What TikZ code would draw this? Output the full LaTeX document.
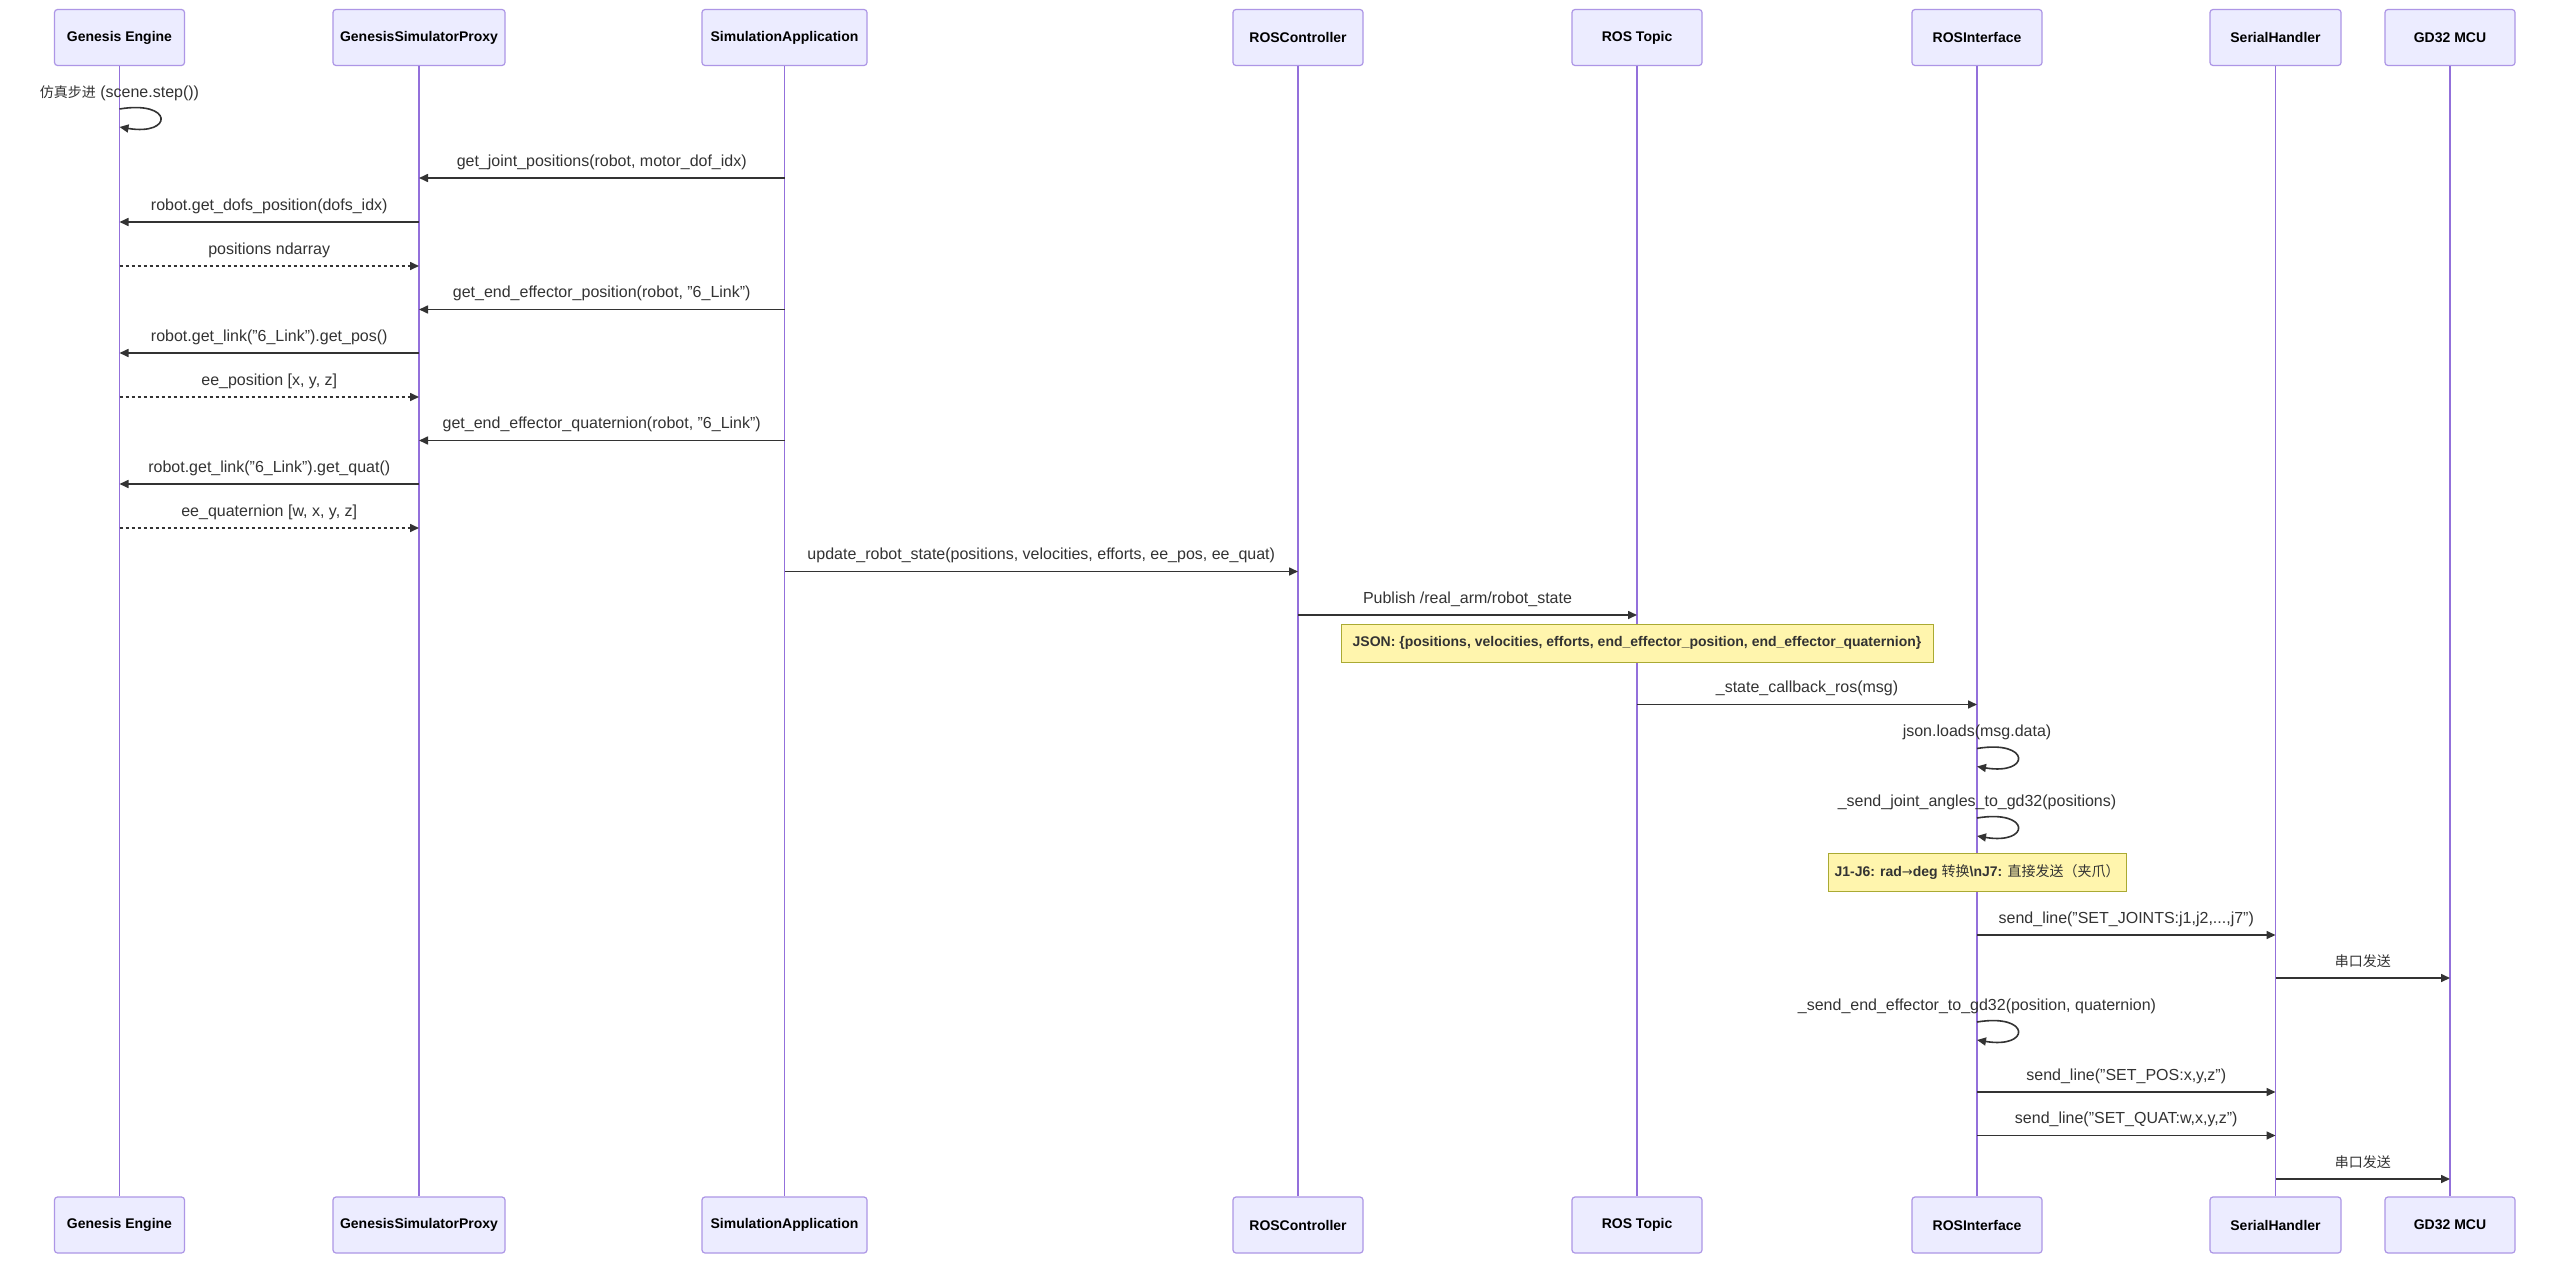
\documentclass[tikz,border=0pt]{standalone}
\usepackage{fontspec}
\setmainfont{Liberation Sans}
\newfontfamily\cjkfont{Noto Sans CJK SC}
\newfontfamily\symfont{DejaVu Sans}
\usetikzlibrary{arrows.meta}
\definecolor{lifecol}{HTML}{9370DB}
\definecolor{actfill}{HTML}{ECECFF}
\definecolor{actdraw}{HTML}{AD96E6}
\definecolor{msgcol}{HTML}{333333}
\definecolor{notefill}{HTML}{FFF5AD}
\definecolor{notedraw}{HTML}{AAAA33}
\newcommand\zh[1]{{\cjkfont\mdseries\fontsize{14}{16}\selectfont #1}}
\newcommand\rarr{{\symfont\mdseries\fontsize{13}{16}\selectfont →}}
\begin{document}
\begin{tikzpicture}[x=1pt,y=-1pt,
  actor/.style={draw=actdraw, fill=actfill, line width=1.2pt, rounded corners=3pt,
    minimum height=56pt, minimum width=#1, inner sep=0pt, text=black,
    font=\bfseries\fontsize{14}{16}\selectfont},
  lifeline/.style={draw=lifecol, line width=1.5pt},
  msg/.style={draw=msgcol, line width=1.6pt, -{Triangle[length=9pt,width=8pt]}},
  reply/.style={msg, dash pattern=on 3pt off 3pt},
  lbl/.style={anchor=base, inner sep=0pt, yshift=12pt, text=msgcol,
    font=\fontsize{16}{19}\selectfont},
  looplbl/.style={anchor=base, inner sep=0pt, text=msgcol,
    font=\fontsize{16}{19}\selectfont},
  note/.style={draw=notedraw, fill=notefill, line width=1pt, inner sep=0pt,
    text=msgcol, font=\bfseries\fontsize{14}{16}\selectfont}
]
\fill[white] (0,0) rectangle (2560,1263);
\useasboundingbox (0,0) rectangle (2560,1263);

% actors top
\node[actor=130pt] (geT)  at (119.5,37.5) {Genesis Engine};
\node[actor=172pt] (gspT) at (419,37.5)   {GenesisSimulatorProxy};
\node[actor=165pt] (saT)  at (784.5,37.5) {SimulationApplication};
\node[actor=130pt] (rcT)  at (1298,37.5)  {ROSController};
\node[actor=130pt] (rtT)  at (1637,37.5)  {ROS Topic};
\node[actor=130pt] (riT)  at (1977,37.5)  {ROSInterface};
\node[actor=131pt] (shT)  at (2275.5,37.5){SerialHandler};
\node[actor=130pt] (mcuT) at (2450,37.5)  {GD32 MCU};
% actors bottom
\node[actor=130pt] (geB)  at (119.5,1225) {Genesis Engine};
\node[actor=172pt] (gspB) at (419,1225)   {GenesisSimulatorProxy};
\node[actor=165pt] (saB)  at (784.5,1225) {SimulationApplication};
\node[actor=130pt] (rcB)  at (1298,1225)  {ROSController};
\node[actor=130pt] (rtB)  at (1637,1225)  {ROS Topic};
\node[actor=130pt] (riB)  at (1977,1225)  {ROSInterface};
\node[actor=131pt] (shB)  at (2275.5,1225){SerialHandler};
\node[actor=130pt] (mcuB) at (2450,1225)  {GD32 MCU};

% lifelines
\draw[lifeline] (geT) -- (geB);
\draw[lifeline] (gspT) -- (gspB);
\draw[lifeline] (saT) -- (saB);
\draw[lifeline] (rcT) -- (rcB);
\draw[lifeline] (rtT) -- (rtB);
\draw[lifeline] (riT) -- (riB);
\draw[lifeline] (shT) -- (shB);
\draw[lifeline] (mcuT) -- (mcuB);

% self loop 1
\coordinate (s1) at (geT |- 0,109);
\node[looplbl] (l1) at ([shift={(0,-12)}]s1) {\zh{仿真步进} (scene.step())};
\draw[msg] (s1) .. controls ([shift={(54,-9)}]s1) and ([shift={(54,27)}]s1) .. ([shift={(0,18)}]s1);

\draw[msg] (saT |- 0,178) -- node[lbl]{get\_joint\_positions(robot, motor\_dof\_idx)} (gspT |- 0,178);
\draw[msg] (gspT |- 0,222) -- node[lbl]{robot.get\_dofs\_position(dofs\_idx)} (geT |- 0,222);
\draw[reply] (geT |- 0,266) -- node[lbl]{positions ndarray} (gspT |- 0,266);
\draw[msg] (saT |- 0,309.5) -- node[lbl]{get\_end\_effector\_position(robot, "6\_Link")} (gspT |- 0,309.5);
\draw[msg] (gspT |- 0,353) -- node[lbl]{robot.get\_link("6\_Link").get\_pos()} (geT |- 0,353);
\draw[reply] (geT |- 0,397) -- node[lbl]{ee\_position [x, y, z]} (gspT |- 0,397);
\draw[msg] (saT |- 0,440.5) -- node[lbl]{get\_end\_effector\_quaternion(robot, "6\_Link")} (gspT |- 0,440.5);
\draw[msg] (gspT |- 0,484) -- node[lbl]{robot.get\_link("6\_Link").get\_quat()} (geT |- 0,484);
\draw[reply] (geT |- 0,528) -- node[lbl]{ee\_quaternion [w, x, y, z]} (gspT |- 0,528);
\draw[msg] (saT |- 0,571.5) -- node[lbl]{update\_robot\_state(positions, velocities, efforts, ee\_pos, ee\_quat)} (rcT |- 0,571.5);
\draw[msg] (rcT |- 0,615) -- node[lbl]{Publish /real\_arm/robot\_state} (rtT |- 0,615);

\node[note, minimum width=592pt, minimum height=38pt] (n1) at (rtT |- 0,643)
  {JSON: \{positions, velocities, efforts, end\_effector\_position, end\_effector\_quaternion\}};

\draw[msg] (rtT |- 0,704.5) -- node[lbl]{\_state\_callback\_ros(msg)} (riT |- 0,704.5);

\coordinate (s2) at (riT |- 0,748.5);
\node[looplbl] (l2) at ([shift={(0,-12)}]s2) {json.loads(msg.data)};
\draw[msg] (s2) .. controls ([shift={(54,-9)}]s2) and ([shift={(54,27)}]s2) .. ([shift={(0,18)}]s2);

\coordinate (s3) at (riT |- 0,818);
\node[looplbl] (l3) at ([shift={(0,-12)}]s3) {\_send\_joint\_angles\_to\_gd32(positions)};
\draw[msg] (s3) .. controls ([shift={(54,-9)}]s3) and ([shift={(54,27)}]s3) .. ([shift={(0,18)}]s3);

\node[note, minimum width=298pt, minimum height=38pt] (n2) at (riT |- 0,872)
  {J1-J6: rad\rarr deg \zh{转换}\textbackslash nJ7: \zh{直接发送（夹爪）}};

\draw[msg] (riT |- 0,935) -- node[lbl]{send\_line("SET\_JOINTS:j1,j2,...,j7")} (shT |- 0,935);
\draw[msg] (shT |- 0,978) -- node[lbl]{\zh{串口发送}} (mcuT |- 0,978);

\coordinate (s4) at (riT |- 0,1022);
\node[looplbl] (l4) at ([shift={(0,-12)}]s4) {\_send\_end\_effector\_to\_gd32(position, quaternion)};
\draw[msg] (s4) .. controls ([shift={(54,-9)}]s4) and ([shift={(54,27)}]s4) .. ([shift={(0,18)}]s4);

\draw[msg] (riT |- 0,1092) -- node[lbl]{send\_line("SET\_POS:x,y,z")} (shT |- 0,1092);
\draw[msg] (riT |- 0,1135.5) -- node[lbl]{send\_line("SET\_QUAT:w,x,y,z")} (shT |- 0,1135.5);
\draw[msg] (shT |- 0,1179) -- node[lbl]{\zh{串口发送}} (mcuT |- 0,1179);
\end{tikzpicture}
\end{document}
